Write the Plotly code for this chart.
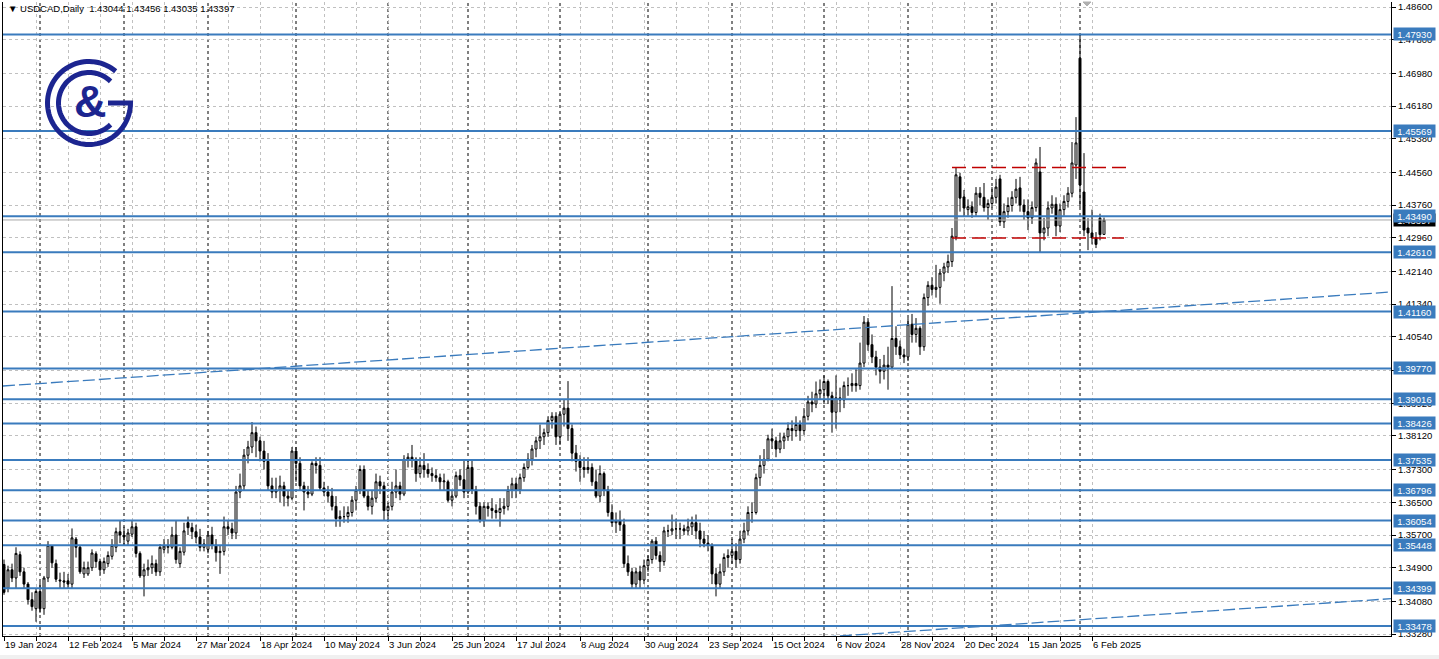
import numpy as np
import pandas as pd
import plotly.graph_objects as go

# ---------------- data ----------------
open_ = [
    1.3498, 1.3440, 1.3485, 1.3465, 1.3522, 1.3480, 1.3450, 1.3412, 1.3390, 1.3432,
    1.3390, 1.3465, 1.3543, 1.3500, 1.3460, 1.3458, 1.3458, 1.3450, 1.3560, 1.3540,
    1.3475, 1.3475, 1.3490, 1.3524, 1.3505, 1.3485, 1.3500, 1.3518, 1.3540, 1.3578,
    1.3570, 1.3555, 1.3572, 1.3590, 1.3525, 1.3470, 1.3485, 1.3490, 1.3500, 1.3480,
    1.3535, 1.3540, 1.3540, 1.3570, 1.3500, 1.3528, 1.3600, 1.3588, 1.3578, 1.3565,
    1.3540, 1.3535, 1.3570, 1.3545, 1.3527, 1.3530, 1.3590, 1.3585, 1.3575, 1.3675,
    1.3690, 1.3765, 1.3785, 1.3820, 1.3800, 1.3775, 1.3750, 1.3690, 1.3675, 1.3680,
    1.3690, 1.3665, 1.3660, 1.3775, 1.3745, 1.3690, 1.3675, 1.3670, 1.3745, 1.3740,
    1.3685, 1.3675, 1.3665, 1.3640, 1.3610, 1.3615, 1.3615, 1.3625, 1.3655, 1.3680,
    1.3730, 1.3665, 1.3640, 1.3660, 1.3700, 1.3690, 1.3630, 1.3640, 1.3675, 1.3690,
    1.3670, 1.3755, 1.3760, 1.3755, 1.3720, 1.3740, 1.3730, 1.3720, 1.3715, 1.3710,
    1.3700, 1.3700, 1.3655, 1.3665, 1.3715, 1.3705, 1.3675, 1.3735, 1.3680, 1.3640,
    1.3605, 1.3640, 1.3635, 1.3630, 1.3625, 1.3635, 1.3640, 1.3680, 1.3695, 1.3680,
    1.3710, 1.3735, 1.3755, 1.3780, 1.3800, 1.3810, 1.3820, 1.3850, 1.3860, 1.3810,
    1.3865, 1.3880, 1.3830, 1.3770, 1.3750, 1.3735, 1.3730, 1.3735, 1.3700, 1.3665,
    1.3720, 1.3680, 1.3625, 1.3600, 1.3605, 1.3595, 1.3500, 1.3480, 1.3450, 1.3480,
    1.3460, 1.3495, 1.3510, 1.3555, 1.3520, 1.3505, 1.3580, 1.3580, 1.3585, 1.3585,
    1.3585, 1.3580, 1.3590, 1.3600, 1.3580, 1.3560, 1.3550, 1.3545, 1.3475, 1.3450,
    1.3480, 1.3515, 1.3520, 1.3530, 1.3510, 1.3560, 1.3580, 1.3625, 1.3625, 1.3710,
    1.3740, 1.3755, 1.3805, 1.3800, 1.3780, 1.3800, 1.3810, 1.3830, 1.3825, 1.3840,
    1.3825, 1.3860, 1.3895, 1.3890, 1.3915, 1.3925, 1.3945, 1.3910, 1.3870, 1.3905,
    1.3900, 1.3935, 1.3935, 1.3940, 1.3935, 1.3990, 1.4090, 1.4035, 1.4005, 1.3980,
    1.3970, 1.3985, 1.3980, 1.4050, 1.4030, 1.4010, 1.4005, 1.4085, 1.4060, 1.4075,
    1.4030, 1.4150, 1.4180, 1.4170, 1.4175, 1.4210, 1.4225, 1.4238, 1.4298, 1.4445,
    1.4396, 1.4365, 1.4372, 1.4358, 1.4405, 1.4395, 1.4370, 1.4380, 1.4395, 1.4440,
    1.4335, 1.4360, 1.4375, 1.4395, 1.4418, 1.4376, 1.4360, 1.4345, 1.4370, 1.4457,
    1.4308, 1.4320, 1.4369, 1.4378, 1.4325, 1.4365, 1.4385, 1.4405, 1.4474, 1.4735,
    1.4408, 1.4320, 1.4308, 1.4296, 1.4344, 1.43044,
]
high = [
    1.3510, 1.3495, 1.3500, 1.3540, 1.3530, 1.3490, 1.3455, 1.3430, 1.3440, 1.3455,
    1.3470, 1.3555, 1.3545, 1.3510, 1.3478, 1.3480, 1.3475, 1.3586, 1.3565, 1.3545,
    1.3505, 1.3505, 1.3535, 1.3530, 1.3512, 1.3515, 1.3530, 1.3560, 1.3588, 1.3605,
    1.3590, 1.3585, 1.3605, 1.3600, 1.3530, 1.3500, 1.3510, 1.3520, 1.3510, 1.3548,
    1.3560, 1.3560, 1.3590, 1.3605, 1.3540, 1.3600, 1.3615, 1.3600, 1.3595, 1.3585,
    1.3560, 1.3580, 1.3590, 1.3560, 1.3545, 1.3615, 1.3605, 1.3600, 1.3690, 1.3720,
    1.3780, 1.3800, 1.3846, 1.3835, 1.3810, 1.3800, 1.3770, 1.3710, 1.3710, 1.3715,
    1.3700, 1.3680, 1.3785, 1.3785, 1.3760, 1.3700, 1.3690, 1.3750, 1.3760, 1.3760,
    1.3700, 1.3690, 1.3685, 1.3665, 1.3630, 1.3640, 1.3640, 1.3665, 1.3690, 1.3740,
    1.3740, 1.3680, 1.3680, 1.3720, 1.3715, 1.3700, 1.3650, 1.3700, 1.3730, 1.3700,
    1.3765, 1.3770, 1.3790, 1.3760, 1.3760, 1.3770, 1.3745, 1.3735, 1.3730, 1.3720,
    1.3720, 1.3705, 1.3680, 1.3725, 1.3730, 1.3755, 1.3755, 1.3755, 1.3690, 1.3650,
    1.3650, 1.3650, 1.3660, 1.3645, 1.3660, 1.3660, 1.3690, 1.3710, 1.3710, 1.3720,
    1.3745, 1.3770, 1.3790, 1.3810, 1.3840, 1.3830, 1.3860, 1.3870, 1.3870, 1.3870,
    1.3900, 1.3946, 1.3840, 1.3790, 1.3765, 1.3760, 1.3760, 1.3745, 1.3730, 1.3740,
    1.3725, 1.3690, 1.3645, 1.3625, 1.3630, 1.3610, 1.3520, 1.3490, 1.3490, 1.3495,
    1.3510, 1.3520, 1.3560, 1.3565, 1.3530, 1.3590, 1.3595, 1.3620, 1.3610, 1.3600,
    1.3595, 1.3610, 1.3615, 1.3620, 1.3600, 1.3580, 1.3570, 1.3550, 1.3490, 1.3500,
    1.3525, 1.3535, 1.3560, 1.3550, 1.3580, 1.3600, 1.3640, 1.3650, 1.3720, 1.3765,
    1.3780, 1.3815, 1.3830, 1.3810, 1.3820, 1.3820, 1.3845, 1.3850, 1.3860, 1.3850,
    1.3880, 1.3910, 1.3920, 1.3945, 1.3950, 1.3960, 1.3950, 1.3920, 1.3960, 1.3930,
    1.3945, 1.3955, 1.3965, 1.3975, 1.4040, 1.4105, 1.4100, 1.4060, 1.4020, 1.4000,
    1.4010, 1.4030, 1.4178, 1.4080, 1.4045, 1.4025, 1.4100, 1.4110, 1.4100, 1.4080,
    1.4160, 1.4190, 1.4200, 1.4230, 1.4220, 1.4235, 1.4255, 1.4320, 1.4467, 1.4455,
    1.4413, 1.4390, 1.4385, 1.4420, 1.4420, 1.4430, 1.4390, 1.4420, 1.4440, 1.4450,
    1.4380, 1.4395, 1.4410, 1.4440, 1.4445, 1.4390, 1.4390, 1.4385, 1.4490, 1.4518,
    1.4345, 1.4385, 1.4400, 1.4395, 1.4380, 1.4400, 1.4420, 1.4530, 1.4591, 1.4793,
    1.4503, 1.4344, 1.4365, 1.4310, 1.4355, 1.43456,
]
low = [
    1.3424, 1.3430, 1.3455, 1.3440, 1.3470, 1.3440, 1.3400, 1.3385, 1.3358, 1.3380,
    1.3375, 1.3455, 1.3490, 1.3455, 1.3440, 1.3440, 1.3440, 1.3440, 1.3515, 1.3475,
    1.3465, 1.3470, 1.3482, 1.3490, 1.3470, 1.3475, 1.3492, 1.3510, 1.3528, 1.3550,
    1.3545, 1.3545, 1.3565, 1.3515, 1.3465, 1.3420, 1.3470, 1.3475, 1.3470, 1.3470,
    1.3525, 1.3525, 1.3535, 1.3500, 1.3490, 1.3520, 1.3570, 1.3560, 1.3550, 1.3530,
    1.3530, 1.3525, 1.3535, 1.3505, 1.3475, 1.3520, 1.3570, 1.3560, 1.3560, 1.3660,
    1.3680, 1.3745, 1.3770, 1.3760, 1.3750, 1.3730, 1.3680, 1.3660, 1.3660, 1.3650,
    1.3640, 1.3640, 1.3655, 1.3700, 1.3680, 1.3630, 1.3660, 1.3665, 1.3720, 1.3680,
    1.3665, 1.3650, 1.3630, 1.3590, 1.3590, 1.3600, 1.3600, 1.3615, 1.3630, 1.3670,
    1.3660, 1.3630, 1.3620, 1.3650, 1.3670, 1.3605, 1.3605, 1.3630, 1.3660, 1.3655,
    1.3665, 1.3735, 1.3735, 1.3700, 1.3710, 1.3710, 1.3710, 1.3700, 1.3700, 1.3680,
    1.3680, 1.3650, 1.3640, 1.3660, 1.3690, 1.3660, 1.3670, 1.3670, 1.3620, 1.3600,
    1.3590, 1.3615, 1.3610, 1.3610, 1.3590, 1.3620, 1.3630, 1.3660, 1.3660, 1.3670,
    1.3700, 1.3730, 1.3740, 1.3760, 1.3780, 1.3790, 1.3810, 1.3830, 1.3790, 1.3790,
    1.3835, 1.3800, 1.3750, 1.3725, 1.3700, 1.3710, 1.3720, 1.3690, 1.3660, 1.3650,
    1.3665, 1.3615, 1.3590, 1.3575, 1.3580, 1.3490, 1.3470, 1.3440, 1.3440, 1.3440,
    1.3450, 1.3480, 1.3500, 1.3510, 1.3480, 1.3495, 1.3565, 1.3570, 1.3560, 1.3560,
    1.3570, 1.3570, 1.3570, 1.3560, 1.3540, 1.3540, 1.3530, 1.3450, 1.3420, 1.3440,
    1.3470, 1.3490, 1.3500, 1.3490, 1.3500, 1.3550, 1.3570, 1.3600, 1.3620, 1.3690,
    1.3720, 1.3750, 1.3780, 1.3760, 1.3770, 1.3780, 1.3800, 1.3800, 1.3810, 1.3800,
    1.3815, 1.3850, 1.3870, 1.3880, 1.3900, 1.3890, 1.3890, 1.3820, 1.3830, 1.3870,
    1.3880, 1.3910, 1.3920, 1.3920, 1.3925, 1.3980, 1.4020, 1.3990, 1.3960, 1.3940,
    1.3950, 1.3925, 1.3975, 1.4010, 1.4000, 1.3990, 1.3995, 1.4040, 1.4040, 1.4010,
    1.4020, 1.4130, 1.4155, 1.4150, 1.4135, 1.4190, 1.4210, 1.4225, 1.4290, 1.4360,
    1.4347, 1.4350, 1.4345, 1.4350, 1.4375, 1.4360, 1.4340, 1.4370, 1.4380, 1.4325,
    1.4320, 1.4345, 1.4360, 1.4380, 1.4360, 1.4340, 1.4315, 1.4330, 1.4360, 1.4259,
    1.4290, 1.4300, 1.4355, 1.4300, 1.4310, 1.4350, 1.4370, 1.4395, 1.4440, 1.4371,
    1.4300, 1.4266, 1.4280, 1.4271, 1.4290, 1.43035,
]
close = [
    1.3430, 1.3485, 1.3465, 1.3525, 1.3480, 1.3450, 1.3412, 1.3395, 1.3432, 1.3390,
    1.3465, 1.3545, 1.3502, 1.3462, 1.3458, 1.3455, 1.3450, 1.3563, 1.3540, 1.3480,
    1.3490, 1.3490, 1.3526, 1.3505, 1.3485, 1.3505, 1.3520, 1.3545, 1.3578, 1.3570,
    1.3565, 1.3575, 1.3590, 1.3525, 1.3470, 1.3485, 1.3490, 1.3500, 1.3480, 1.3540,
    1.3543, 1.3542, 1.3570, 1.3510, 1.3530, 1.3580, 1.3588, 1.3578, 1.3565, 1.3540,
    1.3548, 1.3570, 1.3545, 1.3527, 1.3530, 1.3590, 1.3585, 1.3575, 1.3675, 1.3690,
    1.3765, 1.3785, 1.3820, 1.3800, 1.3775, 1.3750, 1.3690, 1.3675, 1.3680, 1.3690,
    1.3665, 1.3660, 1.3775, 1.3745, 1.3690, 1.3675, 1.3670, 1.3745, 1.3740, 1.3685,
    1.3675, 1.3665, 1.3640, 1.3610, 1.3615, 1.3615, 1.3625, 1.3655, 1.3680, 1.3730,
    1.3665, 1.3640, 1.3660, 1.3700, 1.3690, 1.3630, 1.3640, 1.3675, 1.3690, 1.3670,
    1.3755, 1.3760, 1.3755, 1.3720, 1.3740, 1.3730, 1.3720, 1.3715, 1.3710, 1.3700,
    1.3702, 1.3655, 1.3665, 1.3715, 1.3705, 1.3675, 1.3735, 1.3680, 1.3640, 1.3605,
    1.3640, 1.3635, 1.3630, 1.3625, 1.3635, 1.3640, 1.3680, 1.3695, 1.3680, 1.3710,
    1.3735, 1.3755, 1.3780, 1.3800, 1.3810, 1.3820, 1.3850, 1.3860, 1.3810, 1.3865,
    1.3880, 1.3830, 1.3770, 1.3750, 1.3735, 1.3730, 1.3735, 1.3700, 1.3665, 1.3720,
    1.3680, 1.3625, 1.3600, 1.3605, 1.3595, 1.3500, 1.3480, 1.3450, 1.3480, 1.3460,
    1.3495, 1.3510, 1.3555, 1.3520, 1.3505, 1.3580, 1.3580, 1.3585, 1.3585, 1.3585,
    1.3580, 1.3590, 1.3600, 1.3580, 1.3560, 1.3550, 1.3545, 1.3475, 1.3450, 1.3480,
    1.3515, 1.3520, 1.3530, 1.3510, 1.3560, 1.3580, 1.3625, 1.3625, 1.3710, 1.3740,
    1.3755, 1.3805, 1.3800, 1.3780, 1.3800, 1.3810, 1.3830, 1.3825, 1.3840, 1.3825,
    1.3860, 1.3895, 1.3890, 1.3915, 1.3925, 1.3945, 1.3910, 1.3870, 1.3905, 1.3900,
    1.3935, 1.3935, 1.3940, 1.3935, 1.3990, 1.4090, 1.4035, 1.4005, 1.3980, 1.3970,
    1.3985, 1.3980, 1.4050, 1.4030, 1.4010, 1.4005, 1.4085, 1.4060, 1.4075, 1.4030,
    1.4150, 1.4180, 1.4170, 1.4175, 1.4210, 1.4225, 1.4238, 1.4300, 1.4450, 1.4393,
    1.4369, 1.4372, 1.4358, 1.4405, 1.4395, 1.4370, 1.4380, 1.4395, 1.4420, 1.4335,
    1.4360, 1.4375, 1.4395, 1.4415, 1.4376, 1.4360, 1.4345, 1.4370, 1.4479, 1.4308,
    1.4320, 1.4369, 1.4378, 1.4325, 1.4365, 1.4385, 1.4405, 1.4479, 1.4528, 1.4425,
    1.4315, 1.4308, 1.4296, 1.4280, 1.4304, 1.43397,
]

# trading days shown (broker skips 25 Dec and 1 Jan)
all_days = pd.bdate_range("2024-01-19", "2025-02-11")
skip_days = ["2024-12-25", "2025-01-01"]
dates = [d for d in all_days if d.strftime("%Y-%m-%d") not in skip_days]
n = min(len(dates), len(close))
dates = dates[:n]
xi = list(range(n))

symbol_title = "\u25BC USDCAD,Daily  1.43044 1.43456 1.43035 1.43397"
current_price = 1.43397
level_prices = [1.47930, 1.45569, 1.43490, 1.42610, 1.41160, 1.39770, 1.39016,
                1.38426, 1.37535, 1.36796, 1.36054, 1.35448, 1.34399, 1.33478]
y_ticks = [1.48600, 1.47800, 1.46980, 1.46180, 1.45380, 1.44560, 1.43760, 1.42960,
           1.42140, 1.41340, 1.40540, 1.39720, 1.38920, 1.38120, 1.37300, 1.36500,
           1.35700, 1.34900, 1.34080, 1.33280]
# channel trend lines (bar index, price)
trend_upper_x = [-0.25, 346.75]
trend_upper_y = [1.39340, 1.41637]
trend_lower_x = [205.0, 346.75]
trend_lower_y = [1.33206, 1.34144]
# red range lines (start bar, end bar, price)
range_top = (237, 281, 1.44679)
range_bottom = (237, 280, 1.42956)

# ---------------- styling ----------------
BLUE = "#3a7bbd"
NAVY = "#1c2590"
GRID = "#c0c0c0"
FONT = "Liberation Sans"
FS = 9.5

x_min, x_max = -0.25, 346.75
y_min, y_max = 1.332323, 1.487222

fig = go.Figure()
fig.add_trace(go.Candlestick(
    x=xi, open=open_[:n], high=high[:n], low=low[:n], close=close[:n],
    increasing=dict(line=dict(color="black", width=1), fillcolor="white"),
    decreasing=dict(line=dict(color="black", width=1), fillcolor="black"),
    whiskerwidth=0, showlegend=False, hoverinfo="skip",
))
# blue dashed channel lines
for tx, ty in ((trend_upper_x, trend_upper_y), (trend_lower_x, trend_lower_y)):
    fig.add_trace(go.Scatter(x=tx, y=ty, mode="lines", showlegend=False, hoverinfo="skip",
                             line=dict(color=BLUE, width=1.3, dash="12px,4px")))

shapes = []
# month separators
month_starts = []
for i in range(1, n):
    if dates[i].month != dates[i - 1].month:
        month_starts.append(i)
for i in month_starts:
    shapes.append(dict(type="line", xref="x", yref="paper", x0=i, x1=i, y0=0, y1=1,
                       layer="between", line=dict(color="black", width=1, dash="3px,3px")))
# current price line
shapes.append(dict(type="line", xref="paper", yref="y", x0=0, x1=1, y0=current_price,
                   y1=current_price, layer="above", line=dict(color="#a8a8a8", width=1)))
# horizontal levels
for p in level_prices:
    shapes.append(dict(type="line", xref="paper", yref="y", x0=0, x1=1, y0=p, y1=p,
                       layer="above", line=dict(color=BLUE, width=2)))
# red range
for x0, x1, p in (range_top, range_bottom):
    shapes.append(dict(type="line", xref="x", yref="y", x0=x0, x1=x1, y0=p, y1=p,
                       layer="above", line=dict(color="#c00000", width=1.5, dash="14px,6px")))

# logo (pixel geometry)
def arc(r, a0, a1, k=80):
    t = np.radians(np.linspace(a0, a1, k))
    return [(r * np.cos(a), r * np.sin(a)) for a in t]

def to_path(pts):
    return "M " + " L ".join(f"{x:.2f},{y:.2f}" for x, y in pts)

logo_cx = (89 - 3) / 1388
logo_cy = (636 - 103) / 634
outer_path = to_path(arc(41.5, 50, 360) + [(19.0, 0.0)])
inner_path = to_path(arc(30.5, 45, 315))
for pth in (outer_path, inner_path):
    shapes.append(dict(type="path", xref="paper", yref="paper", xsizemode="pixel",
                       ysizemode="pixel", xanchor=logo_cx, yanchor=logo_cy, path=pth,
                       layer="above", line=dict(color=NAVY, width=5)))
# chart-shift marker at top
shapes.append(dict(type="path", xref="paper", yref="paper", xsizemode="pixel",
                   ysizemode="pixel", xanchor=(1087 - 3) / 1388, yanchor=1.0,
                   path="M -4,0 L 4,0 L 0,-4 Z", fillcolor="#b0b0b0",
                   line=dict(color="#b0b0b0", width=1), layer="above"))
# bottom window strip
shapes.append(dict(type="rect", xref="paper", yref="paper", x0=-0.01, x1=1.05,
                   y0=-(659 - 636) / 634 - 0.01, y1=-(655 - 636) / 634,
                   fillcolor="#f0f0f0", line=dict(width=0), layer="below"))

annotations = []
annotations.append(dict(x=0, y=1, xref="paper", yref="paper", xanchor="left", yanchor="top",
                        xshift=3, yshift=1, text=symbol_title, showarrow=False,
                        font=dict(family=FONT, size=FS, color="black")))
annotations.append(dict(x=logo_cx + 1 / 1388, y=logo_cy + 2 / 634, xref="paper", yref="paper",
                        xanchor="center", yanchor="middle", text="<b>&</b>", showarrow=False,
                        font=dict(family=FONT, size=45, color=NAVY)))
annotations.append(dict(x=1, y=current_price, xref="paper", yref="y", xanchor="left",
                        yanchor="middle", xshift=2, text=f"{current_price:.5f}", showarrow=False,
                        bgcolor="black", width=41, height=12, borderpad=0,
                        font=dict(family=FONT, size=FS, color="white")))
for p in level_prices:
    annotations.append(dict(x=1, y=p, xref="paper", yref="y", xanchor="left", yanchor="middle",
                            xshift=2, text=f"{p:.5f}", showarrow=False, bgcolor=BLUE,
                            width=41, height=12, borderpad=0,
                            font=dict(family=FONT, size=FS, color="white")))

tick_idx = list(range(0, n, 8))
tick_txt = [f"{dates[i].day} {dates[i].strftime('%b %Y')}" if i % 16 == 0 else "" for i in tick_idx]

fig.update_layout(
    width=1439, height=659, autosize=False,
    margin=dict(l=3, r=48, t=2, b=23, pad=0),
    paper_bgcolor="white", plot_bgcolor="white", showlegend=False,
    font=dict(family=FONT, size=FS, color="black"),
    xaxis=dict(range=[x_min, x_max], tickmode="array", tickvals=tick_idx, ticktext=tick_txt,
               showgrid=True, gridcolor=GRID, griddash="3px,3px", gridwidth=1,
               ticks="outside", ticklen=4, tickcolor="black", ticklabelposition="outside right",
               tickangle=0, automargin=False,
               showline=True, linecolor="black", linewidth=1, zeroline=False,
               rangeslider=dict(visible=False), fixedrange=True,
               tickfont=dict(family=FONT, size=FS, color="black")),
    yaxis=dict(range=[y_min, y_max], side="right", tickmode="array", tickvals=y_ticks,
               ticktext=[f"{v:.5f}" for v in y_ticks], showgrid=True, gridcolor=GRID,
               griddash="3px,3px", gridwidth=1, ticks="outside", ticklen=4, tickcolor="black",
               automargin=False,
               showline=True, mirror=True, linecolor="black", linewidth=1, zeroline=False,
               fixedrange=True, tickfont=dict(family=FONT, size=FS, color="black")),
    shapes=shapes, annotations=annotations,
)

fig.write_html("out.html", config={"displayModeBar": False},
               post_script="document.body.style.margin='0px';")
